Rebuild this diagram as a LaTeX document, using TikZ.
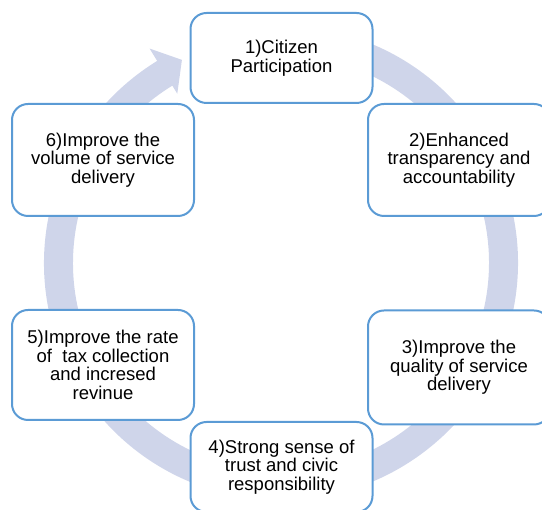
\documentclass[tikz,border=0pt]{standalone}
\usepackage{fontspec}
\setmainfont{Liberation Sans}
\definecolor{boxblue}{RGB}{91,155,213}
\definecolor{ringblue}{RGB}{207,213,234}
\tikzset{
  stage/.style={draw=boxblue,fill=white,line width=2pt,rounded corners=16pt,
    align=center,minimum width=182pt,inner sep=0pt,
    font=\fontsize{18.5pt}{18.6pt}\selectfont},
}
\begin{document}
\begin{tikzpicture}[x=1pt,y=1pt]
  \useasboundingbox (0,0) rectangle (542,510);

  \fill[ringblue,shift={(281,247)}] (80:237) arc[start angle=80,end angle=-238.5,radius=237]
    -- (121.5:251.5) -- (116:226) -- (121.5:198.5) -- (121.5:208)
    arc[start angle=-238.5,end angle=80,radius=208] -- cycle;

  \node[stage,minimum height=90pt] (1) at (281.5,452) {1)Citizen\\Participation};
  \node[stage,minimum height=112pt] (2) at (459,350) {2)Enhanced\\transparency and\\accountability};
  \node[stage,minimum height=114pt] (3) at (459,142.5) {3)Improve the\\quality of service\\delivery};
  \node[stage,minimum height=90pt] (4) at (281.5,43) {4)Strong sense of\\trust and civic\\responsibility};
  \node[stage,minimum height=110pt] (5) at (103,145) {5)Improve the rate\\of\ \ tax collection\\and incresed\\revinue};
  \node[stage,minimum height=112pt] (6) at (103,350) {6)Improve the\\volume of service\\delivery};
\end{tikzpicture}
\end{document}
